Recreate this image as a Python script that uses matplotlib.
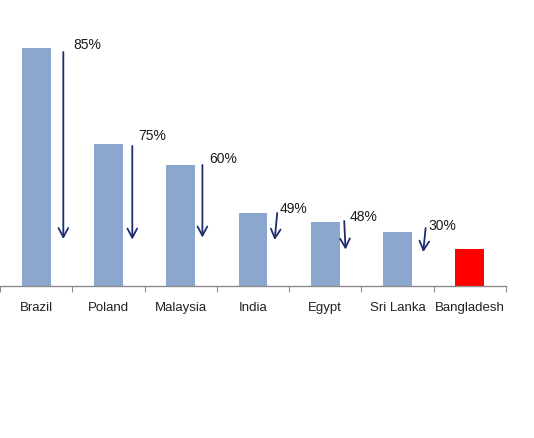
import matplotlib
matplotlib.use("Agg")
import matplotlib.pyplot as plt

categories = ["Brazil", "Poland", "Malaysia", "India", "Egypt", "Sri Lanka", "Bangladesh"]
values = [238, 142, 121, 73, 64, 54, 37]
labels = ["85%", "75%", "60%", "49%", "48%", "30%"]
# arrow annotation geometry (data units)
arrow_x_top = [0.376, 1.33, 2.30, 3.335, 4.262, 5.388]
arrow_x_bot = [0.376, 1.33, 2.30, 3.30, 4.28, 5.355]
arrow_y_top = [234, 140, 121, 73, 65, 58]
arrow_y_bot = [47, 46.5, 48.5, 46, 36.5, 34]
label_x = [0.51, 1.41, 2.40, 3.363, 4.33, 5.42]
label_y = [241, 150, 127, 77, 69, 60.5]

bar_colors = ["#8CA7CE"] * 6 + ["#FF0000"]

fig = plt.figure(figsize=(5.34, 4.38), dpi=100)
ax = fig.add_axes([0 / 534, (438 - 286) / 438, 506 / 534, 250 / 438])
x = list(range(len(categories)))
ax.bar(x, values, width=0.4, color=bar_colors, zorder=2)
ax.set_xlim(-0.5, len(categories) - 0.5)
ax.set_ylim(0, 250)

for xt, xb, yt, yb in zip(arrow_x_top, arrow_x_bot, arrow_y_top, arrow_y_bot):
    ax.annotate("", xy=(xb, yb), xytext=(xt, yt),
                arrowprops=dict(arrowstyle="->,head_length=0.65,head_width=0.35",
                                color="#1C2C6E", lw=1.3, shrinkA=0, shrinkB=0))
for lx, ly, t in zip(label_x, label_y, labels):
    ax.text(lx, ly, t, fontsize=10, family="Liberation Sans", color="#1a1a1a",
            ha="left", va="center")

for s in ["top", "right", "left"]:
    ax.spines[s].set_visible(False)
ax.spines["bottom"].set_color("#8c8c8c")
ax.spines["bottom"].set_linewidth(1.0)
ax.set_yticks([])
ax.set_xticks([i - 0.5 for i in range(len(categories) + 1)], minor=False)
ax.set_xticklabels([])
ax.tick_params(axis="x", which="major", direction="out", length=4, color="#8c8c8c")
ax.set_xticks(x, minor=True)
ax.set_xticklabels(categories, minor=True, fontsize=9.5, family="Liberation Sans", color="#222222")
ax.tick_params(axis="x", which="minor", length=0, pad=16)
for lbl in ax.get_xticklabels(minor=True):
    lbl.set_va("center")

fig.savefig("out.png", dpi=100)
